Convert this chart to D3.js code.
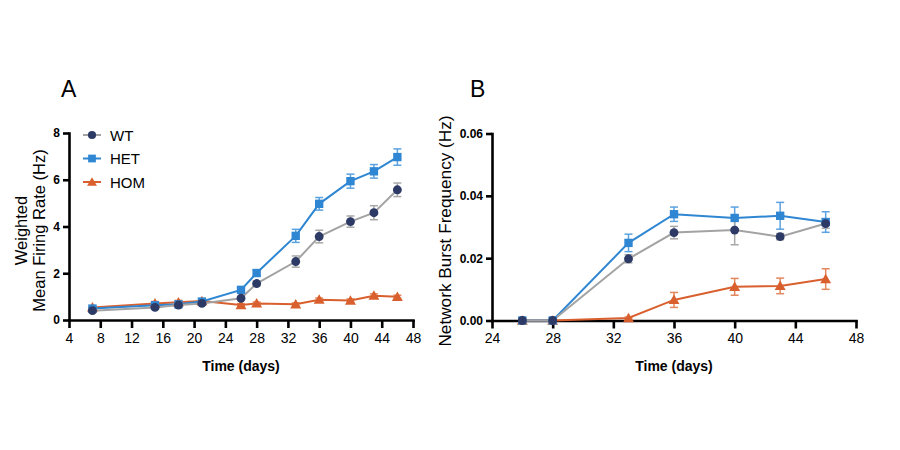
<!DOCTYPE html>
<html>
<head>
<meta charset="utf-8">
<script src="https://cdn.jsdelivr.net/npm/d3@7/dist/d3.min.js"></script>
<style>
  body { margin: 0; background: #fff; }
  svg { font-family: "Liberation Sans", Arial, sans-serif; }
  .axis path, .axis line { stroke: #000; stroke-width: 2.6px; }
  .axis text { fill: #000; }
</style>
</head>
<body>
<svg id="chart" width="900" height="450"></svg>
<script>
// ---- data ----
var daysA = [7, 15, 18, 21, 26, 28, 33, 36, 40, 43, 46];
var wtA   = [0.40, 0.54, 0.64, 0.71, 0.93, 1.56, 2.50, 3.57, 4.21, 4.59, 5.57];
var wtAErr  = [0.05, 0.05, 0.05, 0.05, 0.06, 0.10, 0.24, 0.27, 0.24, 0.30, 0.29];
var hetA  = [0.49, 0.63, 0.67, 0.79, 1.29, 2.01, 3.60, 4.97, 5.94, 6.36, 6.97];
var hetAErr = [0.05, 0.05, 0.05, 0.05, 0.08, 0.12, 0.28, 0.27, 0.30, 0.29, 0.35];
var homA  = [0.54, 0.71, 0.76, 0.81, 0.64, 0.71, 0.67, 0.87, 0.83, 1.04, 0.99];
var homAErr = [0.05, 0.08, 0.08, 0.06, 0.06, 0.06, 0.06, 0.07, 0.07, 0.08, 0.07];

var daysB = [26, 28, 33, 36, 40, 43, 46];
var wtB   = [0, 0, 0.0198, 0.0282, 0.0290, 0.0269, 0.0311];
var wtBErr  = [0, 0, 0.0013, 0.0020, 0.0047, 0.0010, 0.0015];
var hetB  = [0, 0, 0.0249, 0.0341, 0.0329, 0.0336, 0.0316];
var hetBErr = [0, 0, 0.0028, 0.0023, 0.0035, 0.0043, 0.0033];
var homB  = [0, 0, 0.0008, 0.0066, 0.0108, 0.0111, 0.0133];
var homBErr = [0, 0, 0.0003, 0.0024, 0.0027, 0.0025, 0.0033];

var ticksAx = [4, 8, 12, 16, 20, 24, 28, 32, 36, 40, 44, 48];
var ticksAy = [0, 2, 4, 6, 8];
var ticksBx = [24, 28, 32, 36, 40, 44, 48];
var ticksBy = [0, 0.02, 0.04, 0.06];
var seriesNames = ["WT", "HET", "HOM"];

// ---- styles ----
var style = {
  WT:  { line: "#a3a3a3", mark: "#2d3a66", err: "#a8a8a8", sym: d3.symbolCircle,   size: 62 },
  HET: { line: "#2f86d2", mark: "#2f86d2", err: "#5ba2e0", sym: d3.symbolSquare,   size: 70 },
  HOM: { line: "#d9602e", mark: "#d9602e", err: "#e3875d", sym: d3.symbolTriangle, size: 52 }
};

var svg = d3.select("#chart");

function panel(opts) {
  var x = d3.scaleLinear().domain(opts.xDomain).range(opts.xRange);
  var y = d3.scaleLinear().domain(opts.yDomain).range(opts.yRange);
  var g = svg.append("g");

  // axes
  var xa = g.append("g").attr("class", "axis")
    .attr("transform", "translate(0," + opts.yRange[0] + ")")
    .call(d3.axisBottom(x).tickValues(opts.xTicks).tickSize(8).tickSizeOuter(0).tickPadding(5));
  xa.selectAll("text").style("font-size", "14px");
  var ya = g.append("g").attr("class", "axis")
    .attr("transform", "translate(" + opts.xRange[0] + ",0)")
    .call(d3.axisLeft(y).tickValues(opts.yTicks).tickSize(6).tickSizeOuter(0).tickPadding(3)
      .tickFormat(opts.yFormat));
  ya.selectAll("text").style("font-size", "12px").style("font-weight", "bold");
  g.selectAll(".axis path").attr("stroke-linecap", "square");

  var order = ["HOM", "HET", "WT"];
  // error bars + lines
  order.forEach(function (name) {
    var s = opts.series[name], st = style[name];
    var pts = opts.days.map(function (d, i) { return { d: d, v: s.v[i], e: s.e[i] }; });
    var eb = g.append("g").attr("stroke", st.err).attr("stroke-width", 1.5);
    pts.filter(function (p) { return p.e > 0; }).forEach(function (p) {
      var cx = x(p.d), y1 = y(p.v + p.e), y2 = y(p.v - p.e);
      eb.append("line").attr("x1", cx).attr("x2", cx).attr("y1", y1).attr("y2", y2);
      eb.append("line").attr("x1", cx - 4).attr("x2", cx + 4).attr("y1", y1).attr("y2", y1);
      eb.append("line").attr("x1", cx - 4).attr("x2", cx + 4).attr("y1", y2).attr("y2", y2);
    });
    g.append("path").datum(pts)
      .attr("fill", "none").attr("stroke", st.line).attr("stroke-width", 2)
      .attr("d", d3.line().x(function (p) { return x(p.d); }).y(function (p) { return y(p.v); }));
  });
  // markers
  order.forEach(function (name) {
    var s = opts.series[name], st = style[name];
    g.append("g").selectAll("path").data(opts.days).enter().append("path")
      .attr("transform", function (d, i) {
        var dy = name === "HOM" ? 1 : 0;
        return "translate(" + x(d) + "," + (y(s.v[i]) + dy) + ")";
      })
      .attr("d", d3.symbol().type(st.sym).size(st.size))
      .attr("fill", st.mark);
  });

  // titles
  var cx = (opts.xRange[0] + opts.xRange[1]) / 2;
  g.append("text").attr("x", cx).attr("y", 371).attr("text-anchor", "middle")
    .style("font-size", "14px").style("font-weight", "bold").text("Time (days)");
  var cy = (opts.yRange[0] + opts.yRange[1]) / 2 + 0;
  var yt = g.append("text").attr("transform", "translate(" + opts.yTitleX + "," + (cy + 4) + ") rotate(-90)")
    .attr("text-anchor", "middle").style("font-size", opts.yTitleSize);
  opts.yTitle.forEach(function (t, i) {
    yt.append("tspan").attr("x", 0).attr("dy", i === 0 ? 0 : "1.12em").text(t);
  });
  g.append("text").attr("x", opts.labelX).attr("y", 97).style("font-size", "23px").text(opts.label);
  return g;
}

panel({
  label: "A", labelX: 61,
  days: daysA,
  xDomain: [4, 48], xRange: [69, 413],
  yDomain: [0, 8], yRange: [320, 133],
  xTicks: ticksAx, yTicks: ticksAy, yFormat: d3.format("d"),
  yTitle: ["Weighted", "Mean Firing Rate (Hz)"], yTitleX: 27, yTitleSize: "16.5px",
  series: { WT: { v: wtA, e: wtAErr }, HET: { v: hetA, e: hetAErr }, HOM: { v: homA, e: homAErr } }
});

panel({
  label: "B", labelX: 470,
  days: daysB,
  xDomain: [24, 48], xRange: [492, 856],
  yDomain: [0, 0.06], yRange: [320.5, 133.5],
  xTicks: ticksBx, yTicks: ticksBy, yFormat: d3.format(".2f"),
  yTitle: ["Network Burst Frequency (Hz)"], yTitleX: 451, yTitleSize: "17.2px",
  series: { WT: { v: wtB, e: wtBErr }, HET: { v: hetB, e: hetBErr }, HOM: { v: homB, e: homBErr } }
});

// legend (panel A)
var lg = svg.append("g");
seriesNames.forEach(function (name, i) {
  var st = style[name], ly = 135 + i * 23.5;
  lg.append("line").attr("x1", 83).attr("x2", 101).attr("y1", ly).attr("y2", ly)
    .attr("stroke", st.line).attr("stroke-width", 2);
  lg.append("path").attr("transform", "translate(92," + (ly + (name === "HOM" ? 1 : 0)) + ")")
    .attr("d", d3.symbol().type(st.sym).size(st.size - 10)).attr("fill", st.mark);
  lg.append("text").attr("x", 110).attr("y", ly + 5.5).style("font-size", "15px").text(name);
});
</script>
</body>
</html>
